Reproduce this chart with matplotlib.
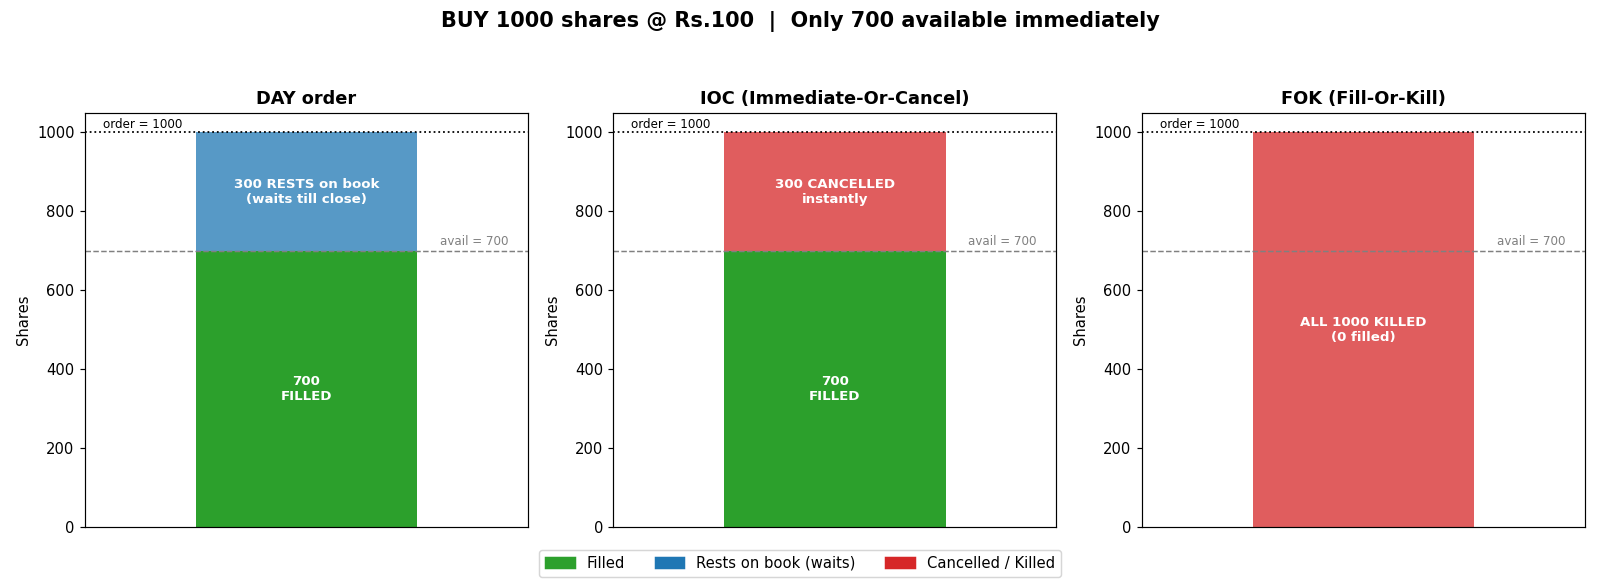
import matplotlib
matplotlib.use("Agg")
import matplotlib.pyplot as plt
from matplotlib.patches import Patch

titles = ["DAY order", "IOC (Immediate-Or-Cancel)", "FOK (Fill-Or-Kill)"]
filled = [700, 700, 0]
rest_amt = [300, 0, 0]
cancel_amt = [0, 300, 1000]
fill_labels = ["700\nFILLED", "700\nFILLED", ""]
rest_labels = ["300 RESTS on book\n(waits till close)", "", ""]
cancel_labels = ["", "300 CANCELLED\ninstantly", "ALL 1000 KILLED\n(0 filled)"]
order_qty = 1000
avail_qty = 700
legend_labels = ["Filled", "Rests on book (waits)", "Cancelled / Killed"]

GREEN = "#2ca02c"
BLUE = "#1f77b4"
RED = "#d62728"

DPI = 1600 / 15
fig, axes = plt.subplots(1, 3, figsize=(15, 587 / DPI), dpi=DPI)
fig.subplots_adjust(left=0.0531, right=0.9906, top=0.808, bottom=0.102, wspace=0.193)

for i, ax in enumerate(axes):
    bottom = 0
    if filled[i] > 0:
        ax.bar(0, filled[i], width=0.5, bottom=bottom, color=GREEN)
        ax.text(0, bottom + filled[i] / 2, fill_labels[i], ha="center", va="center",
                color="white", fontsize=9, fontweight="bold")
        bottom += filled[i]
    if rest_amt[i] > 0:
        ax.bar(0, rest_amt[i], width=0.5, bottom=bottom, color=BLUE, alpha=0.75)
        ax.text(0, bottom + rest_amt[i] / 2, rest_labels[i], ha="center", va="center",
                color="white", fontsize=9, fontweight="bold")
        bottom += rest_amt[i]
    if cancel_amt[i] > 0:
        ax.bar(0, cancel_amt[i], width=0.5, bottom=bottom, color=RED, alpha=0.75)
        ax.text(0, bottom + cancel_amt[i] / 2, cancel_labels[i], ha="center", va="center",
                color="white", fontsize=9, fontweight="bold")
        bottom += cancel_amt[i]
    ax.axhline(order_qty, color="black", linestyle=":", linewidth=1.2)
    ax.axhline(avail_qty, color="gray", linestyle="--", linewidth=1)
    ax.text(-0.46, order_qty + 4, f"order = {order_qty}", fontsize=8, ha="left", va="bottom")
    ax.text(0.455, avail_qty + 8, f"avail = {avail_qty}", fontsize=8, ha="right", va="bottom",
            color="gray")
    ax.set_xlim(-0.5, 0.5)
    ax.set_ylim(0, 1050)
    ax.set_xticks([])
    ax.set_ylabel("Shares")
    ax.set_title(titles[i], fontsize=12, fontweight="bold")

fig.suptitle("BUY 1000 shares @ Rs.100  |  Only 700 available immediately",
             fontsize=14, fontweight="bold", y=0.981)

handles = [Patch(color=GREEN), Patch(color=BLUE), Patch(color=RED)]
fig.legend(handles, legend_labels, loc="lower center", bbox_to_anchor=(0.5, 0.005),
           ncol=3, fontsize=10)

fig.savefig("out.png", dpi=DPI)
